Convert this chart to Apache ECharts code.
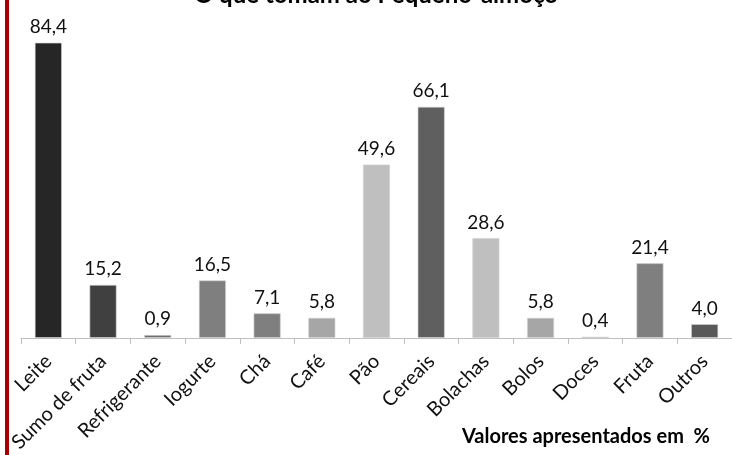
<!DOCTYPE html>
<html>
<head>
<meta charset="utf-8">
<script src="https://cdn.jsdelivr.net/npm/echarts@6/dist/echarts.min.js"></script>
<style>
  html, body { margin: 0; padding: 0; background: #fff; }
  #chart { width: 732px; height: 455px; }
</style>
</head>
<body>
<div id="chart"></div>
<script>
// Breakfast items and the share of respondents who take each one (%)
const categories = ['Leite', 'Sumo de fruta', 'Refrigerante', 'Iogurte', 'Chá', 'Café', 'Pão', 'Cereais', 'Bolachas', 'Bolos', 'Doces', 'Fruta', 'Outros'];
const values = [84.4, 15.2, 0.9, 16.5, 7.1, 5.8, 49.6, 66.1, 28.6, 5.8, 0.4, 21.4, 4.0];
// One grey shade per bar
const barColors = ['#262626', '#404040', '#6e6e6e', '#7f7f7f', '#7f7f7f', '#a6a6a6', '#bfbfbf', '#5f5f5f', '#bfbfbf', '#a6a6a6', '#7f7f7f', '#7f7f7f', '#595959'];
const titleText = 'O que tomam ao Pequeno-almoço';
const unitText = 'Valores apresentados em  %';

const FONT = 'Lato, "Open Sans", sans-serif';
const chart = echarts.init(document.getElementById('chart'), null, { renderer: 'canvas' });

chart.setOption({
  animation: false,
  backgroundColor: '#ffffff',
  grid: { left: 21, right: 0, top: 23, bottom: 117, containLabel: false },
  xAxis: {
    type: 'category',
    data: categories,
    axisLine: { lineStyle: { color: '#bfbfbf', width: 1 } },
    axisTick: { show: true, length: 6, lineStyle: { color: '#bfbfbf' } },
    axisLabel: {
      rotate: 45,
      interval: 0,
      margin: 20,
      color: '#111',
      fontFamily: FONT,
      fontSize: 20
    }
  },
  yAxis: {
    type: 'value',
    min: 0,
    max: 90,
    show: false,
    splitLine: { show: false }
  },
  series: [{
    type: 'bar',
    barWidth: '50%',
    data: values.map((v, i) => ({
      value: v,
      itemStyle: { color: barColors[i] }
    })),
    itemStyle: { borderColor: 'rgba(210,210,210,0.6)', borderWidth: 1 },
    label: {
      show: true,
      position: 'top',
      distance: 6,
      color: '#111',
      fontFamily: FONT,
      fontSize: 19,
      formatter: p => p.value.toFixed(1).replace('.', ',')
    }
  }],
  graphic: [
    {
      type: 'rect',
      shape: { x: 5, y: 0, width: 4, height: 455 },
      style: { fill: '#a80000' },
      silent: true
    },
    {
      type: 'text',
      x: 376,
      y: 7,
      style: {
        text: titleText,
        fontFamily: FONT,
        fontWeight: 'bold',
        fontSize: 24,
        fill: '#000',
        align: 'center',
        verticalAlign: 'bottom'
      }
    },
    {
      type: 'text',
      x: 710,
      y: 447,
      style: {
        text: unitText,
        fontFamily: FONT,
        fontWeight: 'bold',
        fontSize: 20,
        fill: '#000',
        align: 'right',
        verticalAlign: 'bottom'
      }
    }
  ]
});
</script>
</body>
</html>
